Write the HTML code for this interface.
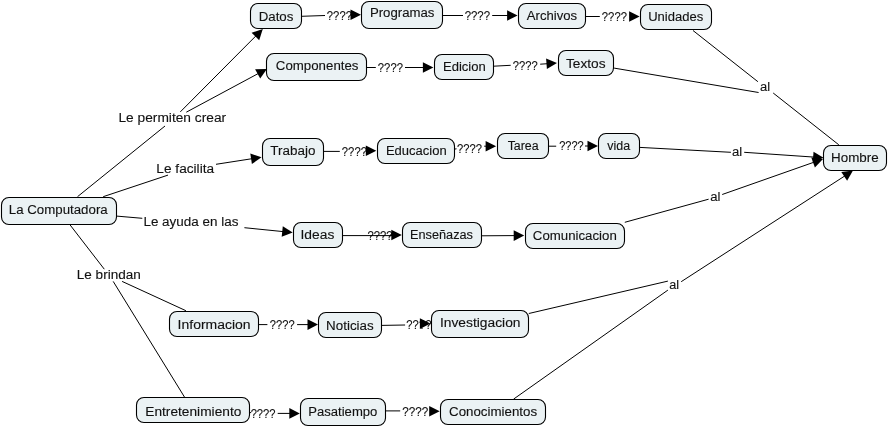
<!DOCTYPE html><html><head><meta charset="utf-8"><style>html,body{margin:0;padding:0;background:#fff;width:889px;height:427px;overflow:hidden}svg{display:block;will-change:transform}text{font-family:"Liberation Sans",sans-serif;font-size:12.5px;fill:#111;stroke:#111;stroke-width:0.12px}</style></head><body>
<svg width="889" height="427" viewBox="0 0 889 427">
<text x="118.48" y="122.20" textLength="107.65" lengthAdjust="spacingAndGlyphs">Le permiten crear</text>
<text x="156.39" y="172.90" textLength="57.72" lengthAdjust="spacingAndGlyphs">Le facilita</text>
<text x="143.41" y="225.90" textLength="94.98" lengthAdjust="spacingAndGlyphs">Le ayuda en las</text>
<text x="76.80" y="279.30" textLength="63.99" lengthAdjust="spacingAndGlyphs">Le brindan</text>
<text x="760.06" y="90.80" textLength="10.11" lengthAdjust="spacingAndGlyphs">al</text>
<text x="732.06" y="155.80" textLength="10.23" lengthAdjust="spacingAndGlyphs">al</text>
<text x="710.16" y="200.80" textLength="10.23" lengthAdjust="spacingAndGlyphs">al</text>
<text x="669.28" y="288.60" textLength="9.88" lengthAdjust="spacingAndGlyphs">al</text>
<text x="326.85" y="19.60" textLength="25.08" lengthAdjust="spacingAndGlyphs">????</text>
<text x="464.64" y="19.80" textLength="25.49" lengthAdjust="spacingAndGlyphs">????</text>
<text x="601.85" y="20.90" textLength="25.08" lengthAdjust="spacingAndGlyphs">????</text>
<text x="377.85" y="71.80" textLength="25.08" lengthAdjust="spacingAndGlyphs">????</text>
<text x="512.85" y="69.80" textLength="24.97" lengthAdjust="spacingAndGlyphs">????</text>
<text x="341.85" y="155.90" textLength="25.08" lengthAdjust="spacingAndGlyphs">????</text>
<text x="457.05" y="152.70" textLength="24.97" lengthAdjust="spacingAndGlyphs">????</text>
<text x="559.16" y="150.30" textLength="24.56" lengthAdjust="spacingAndGlyphs">????</text>
<text x="367.55" y="239.80" textLength="25.08" lengthAdjust="spacingAndGlyphs">????</text>
<text x="269.85" y="329.20" textLength="24.77" lengthAdjust="spacingAndGlyphs">????</text>
<text x="406.35" y="329.00" textLength="25.08" lengthAdjust="spacingAndGlyphs">????</text>
<text x="250.65" y="417.90" textLength="24.87" lengthAdjust="spacingAndGlyphs">????</text>
<text x="402.13" y="416.30" textLength="26.01" lengthAdjust="spacingAndGlyphs">????</text>
<line x1="77.5" y1="196.7" x2="165.0" y2="126.0" stroke="#000" stroke-width="1.0"/>
<line x1="180.3" y1="111.9" x2="256.1" y2="35.7" stroke="#000" stroke-width="1.0"/>
<polygon points="262.8,29.0 259.2,40.2 251.6,32.7" fill="#000"/>
<line x1="186.3" y1="112.2" x2="258.5" y2="73.4" stroke="#000" stroke-width="1.0"/>
<polygon points="266.9,68.9 260.2,78.5 255.1,69.2" fill="#000"/>
<line x1="103.2" y1="196.7" x2="168.0" y2="175.1" stroke="#000" stroke-width="1.0"/>
<line x1="216.0" y1="164.3" x2="252.1" y2="158.7" stroke="#000" stroke-width="1.0"/>
<polygon points="261.5,157.2 251.9,164.1 250.3,153.6" fill="#000"/>
<line x1="116.7" y1="216.1" x2="142.3" y2="218.3" stroke="#000" stroke-width="1.0"/>
<line x1="244.4" y1="227.7" x2="283.2" y2="231.6" stroke="#000" stroke-width="1.0"/>
<polygon points="292.7,232.6 281.7,236.8 282.8,226.3" fill="#000"/>
<line x1="69.9" y1="224.7" x2="104.3" y2="269.2" stroke="#000" stroke-width="1.0"/>
<line x1="122.1" y1="281.4" x2="185.9" y2="310.7" stroke="#000" stroke-width="1.0"/>
<line x1="113.2" y1="281.4" x2="185.0" y2="397.9" stroke="#000" stroke-width="1.0"/>
<line x1="301.5" y1="16.3" x2="325.0" y2="15.5" stroke="#000" stroke-width="1.0"/>
<line x1="350.4" y1="14.8" x2="351.5" y2="14.8" stroke="#000" stroke-width="1.0"/>
<polygon points="361.0,14.8 350.5,20.1 350.5,9.5" fill="#000"/>
<line x1="442.7" y1="15.5" x2="463.0" y2="15.5" stroke="#000" stroke-width="1.0"/>
<line x1="492.2" y1="15.5" x2="508.1" y2="15.5" stroke="#000" stroke-width="1.0"/>
<polygon points="517.6,15.5 507.1,20.8 507.1,10.2" fill="#000"/>
<line x1="585.6" y1="16.5" x2="599.8" y2="16.5" stroke="#000" stroke-width="1.0"/>
<polygon points="639.6,16.5 629.1,21.8 629.1,11.2" fill="#000"/>
<line x1="366.8" y1="67.5" x2="375.8" y2="67.5" stroke="#000" stroke-width="1.0"/>
<line x1="405.0" y1="67.5" x2="423.9" y2="67.5" stroke="#000" stroke-width="1.0"/>
<polygon points="433.4,67.5 422.9,72.8 422.9,62.2" fill="#000"/>
<line x1="493.6" y1="66.2" x2="510.7" y2="65.3" stroke="#000" stroke-width="1.0"/>
<line x1="540.2" y1="64.2" x2="547.5" y2="63.7" stroke="#000" stroke-width="1.0"/>
<polygon points="557.0,63.0 546.9,69.0 546.1,58.5" fill="#000"/>
<line x1="323.6" y1="151.4" x2="339.8" y2="151.4" stroke="#000" stroke-width="1.0"/>
<polygon points="376.3,150.8 365.8,156.1 365.8,145.5" fill="#000"/>
<line x1="454.5" y1="149.1" x2="456.5" y2="148.8" stroke="#000" stroke-width="1.0"/>
<line x1="484.2" y1="146.2" x2="486.6" y2="146.2" stroke="#000" stroke-width="1.0"/>
<polygon points="496.1,146.2 485.6,151.5 485.6,140.9" fill="#000"/>
<line x1="548.9" y1="146.2" x2="556.2" y2="146.2" stroke="#000" stroke-width="1.0"/>
<line x1="585.0" y1="146.0" x2="588.5" y2="146.0" stroke="#000" stroke-width="1.0"/>
<polygon points="598.0,146.0 587.5,151.3 587.5,140.7" fill="#000"/>
<line x1="342.6" y1="235.6" x2="392.0" y2="235.6" stroke="#000" stroke-width="1.0"/>
<line x1="390.0" y1="235.0" x2="392.3" y2="235.0" stroke="#000" stroke-width="1.0"/>
<polygon points="401.8,235.0 391.3,240.3 391.3,229.7" fill="#000"/>
<line x1="481.5" y1="235.8" x2="514.7" y2="235.6" stroke="#000" stroke-width="1.0"/>
<polygon points="524.2,235.5 513.7,240.9 513.7,230.3" fill="#000"/>
<line x1="258.8" y1="324.6" x2="267.4" y2="324.6" stroke="#000" stroke-width="1.0"/>
<line x1="297.1" y1="324.6" x2="308.5" y2="324.6" stroke="#000" stroke-width="1.0"/>
<polygon points="318.0,324.6 307.5,329.9 307.5,319.3" fill="#000"/>
<line x1="381.7" y1="325.4" x2="405.1" y2="325.0" stroke="#000" stroke-width="1.0"/>
<polygon points="430.4,323.6 419.9,328.9 419.9,318.3" fill="#000"/>
<line x1="249.9" y1="412.6" x2="251.2" y2="412.6" stroke="#000" stroke-width="1.0"/>
<line x1="277.7" y1="413.4" x2="290.3" y2="413.4" stroke="#000" stroke-width="1.0"/>
<polygon points="299.8,413.4 289.3,418.7 289.3,408.1" fill="#000"/>
<line x1="385.3" y1="410.9" x2="400.2" y2="410.9" stroke="#000" stroke-width="1.0"/>
<polygon points="439.7,411.3 429.2,416.6 429.2,406.0" fill="#000"/>
<line x1="693.0" y1="30.5" x2="757.9" y2="81.7" stroke="#000" stroke-width="1.0"/>
<line x1="614.1" y1="68.1" x2="758.6" y2="92.5" stroke="#000" stroke-width="1.0"/>
<line x1="773.2" y1="93.0" x2="838.8" y2="144.8" stroke="#000" stroke-width="1.0"/>
<line x1="639.8" y1="147.4" x2="730.9" y2="152.3" stroke="#000" stroke-width="1.0"/>
<line x1="744.2" y1="152.3" x2="814.1" y2="157.1" stroke="#000" stroke-width="1.0"/>
<polygon points="823.6,157.7 812.8,162.3 813.5,151.7" fill="#000"/>
<line x1="624.8" y1="222.3" x2="708.6" y2="199.2" stroke="#000" stroke-width="1.0"/>
<line x1="722.2" y1="194.5" x2="814.0" y2="162.2" stroke="#000" stroke-width="1.0"/>
<polygon points="823.0,159.0 814.9,167.5 811.3,157.5" fill="#000"/>
<line x1="528.8" y1="313.5" x2="667.9" y2="281.1" stroke="#000" stroke-width="1.0"/>
<line x1="513.6" y1="399.1" x2="667.9" y2="290.1" stroke="#000" stroke-width="1.0"/>
<line x1="681.2" y1="281.7" x2="845.0" y2="175.8" stroke="#000" stroke-width="1.0"/>
<polygon points="853.0,170.6 847.1,180.8 841.3,171.9" fill="#000"/>
<rect x="250.50" y="3.50" width="51.00" height="25.00" rx="7.5" ry="7.5" fill="#ebf2f4" stroke="#000" stroke-width="1.1"/>
<text x="258.72" y="20.60" textLength="34.66" lengthAdjust="spacingAndGlyphs">Datos</text>
<rect x="361.50" y="1.50" width="81.00" height="27.00" rx="7.5" ry="7.5" fill="#ebf2f4" stroke="#000" stroke-width="1.1"/>
<text x="369.93" y="17.40" textLength="64.55" lengthAdjust="spacingAndGlyphs">Programas</text>
<rect x="518.50" y="3.50" width="67.00" height="25.00" rx="7.5" ry="7.5" fill="#ebf2f4" stroke="#000" stroke-width="1.1"/>
<text x="526.88" y="20.00" textLength="50.18" lengthAdjust="spacingAndGlyphs">Archivos</text>
<rect x="640.50" y="4.50" width="71.00" height="25.00" rx="7.5" ry="7.5" fill="#ebf2f4" stroke="#000" stroke-width="1.1"/>
<text x="648.21" y="20.80" textLength="55.07" lengthAdjust="spacingAndGlyphs">Unidades</text>
<rect x="266.50" y="53.50" width="100.00" height="27.00" rx="7.5" ry="7.5" fill="#ebf2f4" stroke="#000" stroke-width="1.1"/>
<text x="275.83" y="70.00" textLength="82.65" lengthAdjust="spacingAndGlyphs">Componentes</text>
<rect x="434.50" y="54.50" width="59.00" height="25.00" rx="7.5" ry="7.5" fill="#ebf2f4" stroke="#000" stroke-width="1.1"/>
<text x="442.94" y="70.80" textLength="42.81" lengthAdjust="spacingAndGlyphs">Edicion</text>
<rect x="558.50" y="50.50" width="55.00" height="25.00" rx="7.5" ry="7.5" fill="#ebf2f4" stroke="#000" stroke-width="1.1"/>
<text x="566.01" y="67.90" textLength="39.59" lengthAdjust="spacingAndGlyphs">Textos</text>
<rect x="262.50" y="138.50" width="61.00" height="27.00" rx="7.5" ry="7.5" fill="#ebf2f4" stroke="#000" stroke-width="1.1"/>
<text x="270.31" y="155.00" textLength="45.06" lengthAdjust="spacingAndGlyphs">Trabajo</text>
<rect x="377.50" y="138.50" width="77.00" height="25.00" rx="7.5" ry="7.5" fill="#ebf2f4" stroke="#000" stroke-width="1.1"/>
<text x="385.94" y="154.80" textLength="60.70" lengthAdjust="spacingAndGlyphs">Educacion</text>
<rect x="497.50" y="133.50" width="51.00" height="25.00" rx="7.5" ry="7.5" fill="#ebf2f4" stroke="#000" stroke-width="1.1"/>
<text x="507.64" y="150.30" textLength="31.07" lengthAdjust="spacingAndGlyphs">Tarea</text>
<rect x="598.50" y="133.50" width="41.00" height="25.00" rx="7.5" ry="7.5" fill="#ebf2f4" stroke="#000" stroke-width="1.1"/>
<text x="607.26" y="150.30" textLength="22.85" lengthAdjust="spacingAndGlyphs">vida</text>
<rect x="823.50" y="145.50" width="63.00" height="25.00" rx="7.5" ry="7.5" fill="#ebf2f4" stroke="#000" stroke-width="1.1"/>
<text x="831.11" y="162.00" textLength="47.57" lengthAdjust="spacingAndGlyphs">Hombre</text>
<rect x="1.50" y="197.50" width="115.00" height="27.00" rx="7.5" ry="7.5" fill="#ebf2f4" stroke="#000" stroke-width="1.1"/>
<text x="8.82" y="213.80" textLength="98.89" lengthAdjust="spacingAndGlyphs">La Computadora</text>
<rect x="293.50" y="222.50" width="49.00" height="25.00" rx="7.5" ry="7.5" fill="#ebf2f4" stroke="#000" stroke-width="1.1"/>
<text x="300.54" y="239.30" textLength="33.76" lengthAdjust="spacingAndGlyphs">Ideas</text>
<rect x="402.50" y="222.50" width="79.00" height="25.00" rx="7.5" ry="7.5" fill="#ebf2f4" stroke="#000" stroke-width="1.1"/>
<text x="409.97" y="239.30" textLength="62.99" lengthAdjust="spacingAndGlyphs">Enseñazas</text>
<rect x="525.50" y="223.50" width="99.00" height="25.00" rx="7.5" ry="7.5" fill="#ebf2f4" stroke="#000" stroke-width="1.1"/>
<text x="532.83" y="239.70" textLength="83.94" lengthAdjust="spacingAndGlyphs">Comunicacion</text>
<rect x="169.50" y="311.50" width="89.00" height="25.00" rx="7.5" ry="7.5" fill="#ebf2f4" stroke="#000" stroke-width="1.1"/>
<text x="177.62" y="328.50" textLength="73.00" lengthAdjust="spacingAndGlyphs">Informacion</text>
<rect x="318.50" y="312.50" width="63.00" height="25.00" rx="7.5" ry="7.5" fill="#ebf2f4" stroke="#000" stroke-width="1.1"/>
<text x="326.11" y="329.80" textLength="47.57" lengthAdjust="spacingAndGlyphs">Noticias</text>
<rect x="431.50" y="310.50" width="97.00" height="27.00" rx="7.5" ry="7.5" fill="#ebf2f4" stroke="#000" stroke-width="1.1"/>
<text x="439.94" y="327.00" textLength="80.56" lengthAdjust="spacingAndGlyphs">Investigacion</text>
<rect x="136.50" y="397.50" width="113.00" height="25.00" rx="7.5" ry="7.5" fill="#ebf2f4" stroke="#000" stroke-width="1.1"/>
<text x="145.28" y="415.70" textLength="96.09" lengthAdjust="spacingAndGlyphs">Entretenimiento</text>
<rect x="300.50" y="398.50" width="85.00" height="27.00" rx="7.5" ry="7.5" fill="#ebf2f4" stroke="#000" stroke-width="1.1"/>
<text x="308.24" y="415.70" textLength="69.11" lengthAdjust="spacingAndGlyphs">Pasatiempo</text>
<rect x="440.50" y="399.50" width="105.00" height="25.00" rx="7.5" ry="7.5" fill="#ebf2f4" stroke="#000" stroke-width="1.1"/>
<text x="449.03" y="416.30" textLength="88.06" lengthAdjust="spacingAndGlyphs">Conocimientos</text>
</svg></body></html>
